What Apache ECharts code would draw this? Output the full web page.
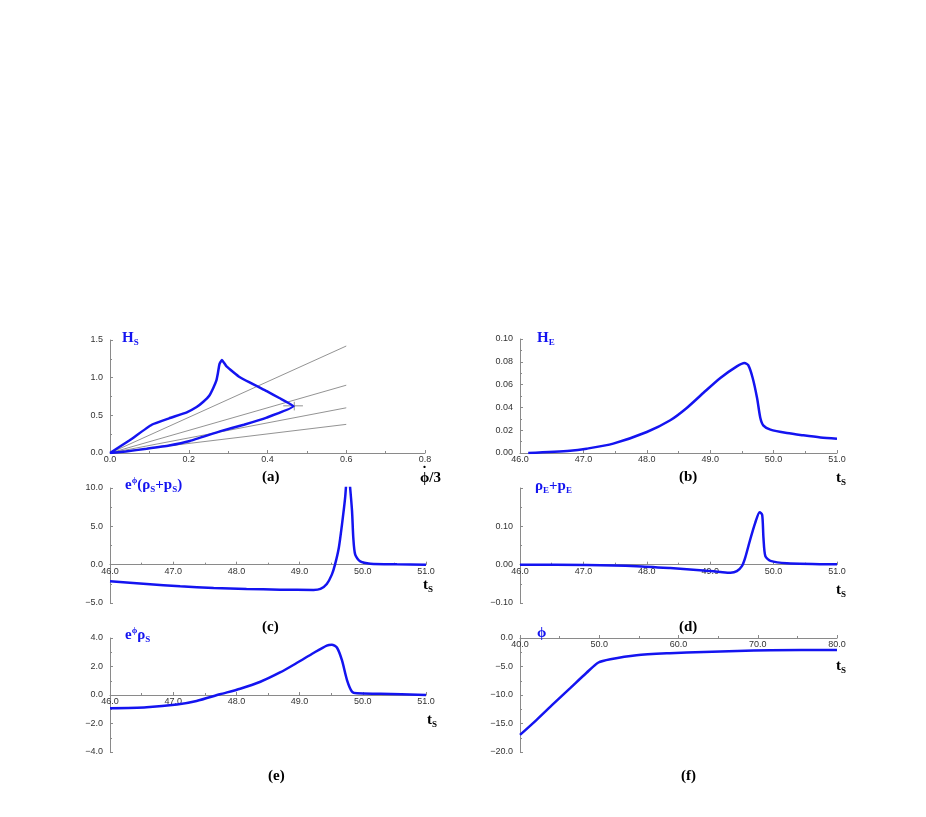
<!DOCTYPE html>
<html><head><meta charset="utf-8">
<script src="https://cdn.jsdelivr.net/npm/echarts@6/dist/echarts.min.js"></script>
<style>html,body{margin:0;padding:0;background:#fff}#c{width:926px;height:817px}</style>
</head><body><div id="c"></div>
<script>
// (a) H_S vs phidot/3 loop
const aX = [0,0.05,0.106,0.15,0.195,0.22,0.237,0.252,0.262,0.27,0.274,0.278,0.284,0.296,0.33,0.398,0.43,0.466,0.398,0.34,0.279,0.203,0.15,0.093,0.04,0];
const aY = [0,0.17,0.375,0.46,0.54,0.61,0.68,0.76,0.86,0.96,1.06,1.18,1.235,1.15,1.005,0.82,0.73,0.62,0.47,0.375,0.287,0.16,0.1,0.057,0.02,0];
const rayEndX = 0.6;
const rayEndY = [1.42, 0.9, 0.6, 0.38];
const crossH = [[0.44,0.626],[0.49,0.626]];
const crossV = [[0.468,0.565],[0.468,0.68]];
// (b) H_E
const bT = [46.13,46.79,47.05,47.47,48.0,48.37,48.63,48.89,49.16,49.42,49.54,49.6,49.67,49.74,49.79,49.84,49.95,50.21,50.47,50.74,51.0];
const bV = [0,0.002,0.0038,0.0082,0.0184,0.0287,0.0395,0.0526,0.0658,0.076,0.079,0.077,0.0658,0.048,0.031,0.024,0.0205,0.0175,0.0155,0.0137,0.0126];
// (c) e^phi (rho_S + p_S)
const cT = [46,46.58,47.11,47.64,48.16,48.69,49.22,49.33,49.43,49.51,49.56,49.62,49.67,49.72,49.765,49.8,49.83,49.85,49.88,49.96,50.12,50.54,51];
const cV = [-2.17,-2.52,-2.83,-3.04,-3.17,-3.26,-3.3,-3.17,-2.52,-1.3,0,2.17,5.2,8.7,13,10,6.96,3.48,1.3,0.43,0.13,0.04,0];
// (d) rho_E + p_E
const dT = [46,47.05,47.84,48.37,48.89,49.16,49.32,49.42,49.5,49.55,49.63,49.71,49.78,49.82,49.84,49.87,49.95,50.21,51];
const dV = [0,-0.001,-0.004,-0.009,-0.015,-0.019,-0.021,-0.017,-0.004,0.017,0.065,0.109,0.137,0.13,0.07,0.022,0.01,0.004,0.001];
// (e) e^phi rho_S
const eT = [46,46.58,47.06,47.37,47.74,48.06,48.38,48.69,48.96,49.22,49.43,49.51,49.59,49.67,49.75,49.83,49.91,50.28,51];
const eV = [-0.93,-0.86,-0.67,-0.42,0.05,0.44,0.93,1.58,2.26,2.95,3.47,3.53,3.33,2.44,1.05,0.23,0.12,0.09,0];
// (f) phi
const fT = [40,42.1,44.2,46.3,48.4,49.9,51.4,54.7,58.9,63.2,67.4,71.6,80];
const fV = [-17.0,-14.36,-11.57,-8.84,-6.1,-4.3,-3.72,-3.02,-2.67,-2.44,-2.27,-2.15,-2.09];

const zip = (xs, ys) => xs.map((x, i) => [x, ys[i]]);
const BLUE = '#1414f0';
const AX = '#8a8a8a';
const minus = v => String(v).replace('-', '\u2212');
const grids = [
  {left:110, top:340, width:315, height:113},
  {left:520, top:339, width:317, height:114},
  {left:110, top:488, width:316, height:115},
  {left:520, top:488, width:317, height:115},
  {left:110, top:638, width:316, height:114},
  {left:520, top:638, width:317, height:114}
];
const yRanges = [[0,1.5,0.5,1],[0,0.1,0.02,2],[-5,10,5,1],[-0.1,0.2,0.1,2,0.2],[-4,4,2,1],[-20,0,5,1]];
function xAxis(i, min, max, interval, digits) {
  const yr = yRanges[i];
  const off = -grids[i].height * (0 - yr[0]) / (yr[1] - yr[0]);
  return {gridIndex:i, type:'value', min, max, interval, offset: off,
    axisLine:{onZero:false, lineStyle:{color:AX, width:1}},
    axisTick:{show:true, inside:true, length:3, lineStyle:{color:AX}},
    minorTick:{show:true, splitNumber:2, length:2, lineStyle:{color:AX}},
    splitLine:{show:false},
    axisLabel:{fontSize:9, color:'#333', margin:2, fontFamily:'Liberation Sans',
      formatter: v => minus(v.toFixed(digits))}};
}
function yAxis(i) {
  const [min, max, interval, digits, hide] = yRanges[i];
  return {gridIndex:i, type:'value', min, max, interval,
    axisLine:{show:true, lineStyle:{color:AX, width:1}},
    axisTick:{show:true, inside:true, length:3, lineStyle:{color:AX}},
    minorTick:{show:true, splitNumber:2, length:2, lineStyle:{color:AX}},
    splitLine:{show:false},
    axisLabel:{fontSize:9, color:'#333', margin:7, fontFamily:'Liberation Sans',
      formatter: v => (hide !== undefined && Math.abs(v - hide) < 1e-9) ? '' : minus(v.toFixed(digits))}};
}
function line(i, data, extra) {
  return Object.assign({type:'line', xAxisIndex:i, yAxisIndex:i, data, showSymbol:false, symbol:'none',
    smooth:0.25, clip:true, lineStyle:{color:BLUE, width:2.5}, silent:true, z:3}, extra||{});
}
const series = [];
rayEndY.forEach(y => series.push(line(0, [[0,0],[rayEndX,y]], {smooth:false, lineStyle:{color:'#777', width:0.8}, z:2})));
series.push(line(0, crossH, {smooth:false, lineStyle:{color:'#777', width:0.8}, z:2}));
series.push(line(0, crossV, {smooth:false, lineStyle:{color:'#777', width:0.8}, z:2}));
series.push(line(0, zip(aX, aY), {smooth:0.12}));
series.push(line(1, zip(bT, bV)));
series.push(line(2, zip(cT, cV)));
series.push(line(3, zip(dT, dV)));
series.push(line(4, zip(eT, eV)));
series.push(line(5, zip(fT, fV)));

const serif = 'Liberation Serif';
const richT = {
  m:{fontSize:15, fontFamily:serif, fontWeight:'bold', color:BLUE, lineHeight:18},
  n:{fontSize:15, fontFamily:serif, color:BLUE, lineHeight:18},
  s:{fontSize:9, fontFamily:serif, color:BLUE, lineHeight:18, verticalAlign:'bottom', padding:[5,0,0,0]},
  u:{fontSize:9, fontFamily:serif, color:BLUE, lineHeight:18, verticalAlign:'top', padding:[0,0,6,0]},
  k:{fontSize:15, fontFamily:serif, fontWeight:'bold', color:'#000', lineHeight:18},
  ks:{fontSize:9, fontFamily:serif, color:'#000', lineHeight:18, verticalAlign:'bottom', padding:[5,0,0,0]},
  c:{fontSize:15, fontFamily:serif, color:'#000', lineHeight:18}
};
function T(text, left, top) { return {text, left, top, padding:0, textStyle:{rich:richT}}; }
const titles = [
  T('{m|H}{s|S}', 122, 329),
  T('{m|H}{s|E}', 537, 329),
  T('{n|e}{u|ϕ}{n|(ρ}{s|S}{n|+p}{s|S}{n|)}', 125, 476),
  T('{n|ρ}{s|E}{n|+p}{s|E}', 535, 477),
  T('{n|e}{u|ϕ}{n|ρ}{s|S}', 125, 626),
  T('{m|ϕ}', 537, 624),
  T('{c|(a)}', 262, 468),
  T('{c|(b)}', 679, 468),
  T('{c|(c)}', 262, 618),
  T('{c|(d)}', 679, 618),
  T('{c|(e)}', 268, 767),
  T('{c|(f)}', 681, 767),
  T('{c|ϕ/3}', 420, 469),
  T('{c|˙}', 422, 463),
  T('{k|t}{ks|S}', 836, 469),
  T('{k|t}{ks|S}', 423, 576),
  T('{k|t}{ks|S}', 836, 581),
  T('{k|t}{ks|S}', 427, 711),
  T('{k|t}{ks|S}', 836, 657)
];
const chart = echarts.init(document.getElementById('c'), null, {renderer:'canvas'});
chart.setOption({
  backgroundColor:'#fff', animation:false,
  title: titles,
  grid: grids,
  xAxis: [xAxis(0,0,0.8,0.2,1), xAxis(1,46,51,1,1), xAxis(2,46,51,1,1), xAxis(3,46,51,1,1), xAxis(4,46,51,1,1), xAxis(5,40,80,10,1)],
  yAxis: [0,1,2,3,4,5].map(yAxis),
  series
});
</script></body></html>
